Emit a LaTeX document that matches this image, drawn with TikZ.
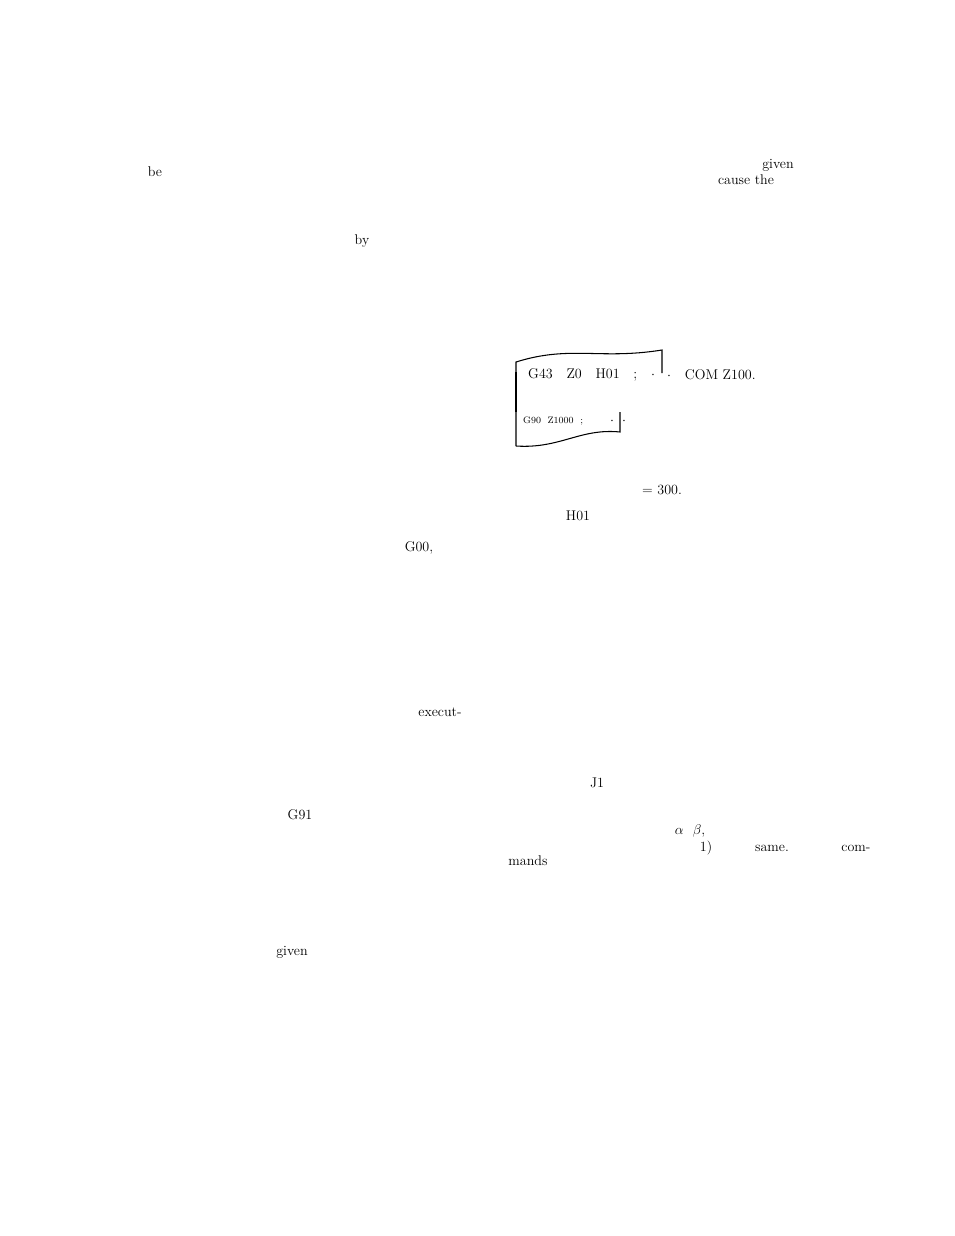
\documentclass[tikz,border=0pt]{standalone}
\usepackage{amsmath}
\usetikzlibrary{positioning}
\begin{document}
\begin{tikzpicture}[x=0.03cm, y=-0.03cm,
		word/.style = {inner sep=0pt, font=\large},
		tape/.style = {line width=0.9pt}
		]
\useasboundingbox (0,0) rectangle (954,1236);

%Scattered words
	\node[word] (be) at (155,172) {be};
	\node[word] (given1) at (778,165) {given};
	\node[word] (cause) at (746,180) {cause the};
	\node[word] (by) at (362,241) {by};

%Tape
	\draw[tape] (516,446) -- (516,362) .. controls (570,345) and (600,360) .. (662,350) -- (662,373);
	\draw[tape] (516,446) .. controls (560,449) and (580,428) .. (620,432) -- (620,412);
	\draw[line width=2.4pt] (516,372) -- (516,412);
	\node[word, anchor=west] (row1) at (528,375) {G43\ \ \ Z0\ \ \ H01\ \ \ ;};
	\node[word] (dot1) at (653,375) {$\cdot$};
	\node[word, anchor=west] (com) at (667,375) {$\cdot$\ \ \ COM Z100.};
	\node[word, anchor=west, font=\footnotesize] (row2) at (523,421) {G90\ \ Z1000\ \ ;};
	\node[word] (dot2) at (612,421) {$\cdot$};
	\node[word, anchor=west] (dot3) at (622,421) {$\cdot$};

	\node[word] (eq) at (662,490) {= 300.};
	\node[word] (h01) at (578,516) {H01};
	\node[word] (g00) at (419,548) {G00,};
	\node[word] (exec) at (440,712) {execut-};
	\node[word] (j1) at (597,783) {J1};
	\node[word] (g91) at (300,815) {G91};
	\node[word] (ab) at (690,831) {$\alpha$\ \ $\beta$,};
	\node[word] (one) at (706,848) {1)};
	\node[word] (same) at (772,848) {same.};
	\node[word] (com2) at (856,848) {com-};
	\node[word] (mands) at (528,861) {mands};
	\node[word] (given2) at (292,952) {given};
\end{tikzpicture}
\end{document}
